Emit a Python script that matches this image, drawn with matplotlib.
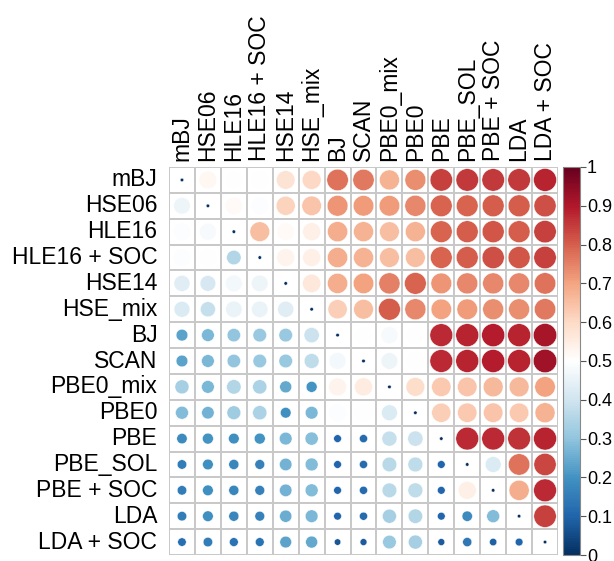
import numpy as np
import matplotlib
matplotlib.use("Agg")
import matplotlib.pyplot as plt
from matplotlib.colors import LinearSegmentedColormap, Normalize
from matplotlib.patches import Circle, Rectangle
import matplotlib.colorbar as mcolorbar

plt.rcParams['font.family'] = ['Liberation Sans', 'DejaVu Sans']

labels = ["mBJ", "HSE06", "HLE16", "HLE16 + SOC", "HSE14", "HSE_mix", "BJ", "SCAN",
          "PBE0_mix", "PBE0", "PBE", "PBE_SOL", "PBE + SOC", "LDA", "LDA + SOC"]

row_mBJ      = [0.00, 0.52, 0.50, 0.50, 0.58, 0.60, 0.77, 0.76, 0.67, 0.73, 0.84, 0.85, 0.85, 0.85, 0.88]
row_HSE06    = [0.46, 0.00, 0.51, 0.49, 0.61, 0.64, 0.72, 0.71, 0.71, 0.74, 0.79, 0.79, 0.80, 0.80, 0.82]
row_HLE16    = [0.49, 0.48, 0.00, 0.65, 0.51, 0.54, 0.68, 0.67, 0.65, 0.67, 0.79, 0.80, 0.81, 0.80, 0.84]
row_HLE16SOC = [0.49, 0.50, 0.35, 0.00, 0.53, 0.54, 0.68, 0.67, 0.65, 0.65, 0.79, 0.80, 0.82, 0.81, 0.84]
row_HSE14    = [0.43, 0.41, 0.47, 0.46, 0.00, 0.56, 0.68, 0.70, 0.75, 0.79, 0.72, 0.74, 0.74, 0.74, 0.77]
row_HSEmix   = [0.42, 0.38, 0.45, 0.45, 0.43, 0.00, 0.62, 0.65, 0.80, 0.74, 0.70, 0.71, 0.73, 0.73, 0.76]
row_BJ       = [0.23, 0.27, 0.30, 0.31, 0.31, 0.39, 0.00, 0.50, 0.48, 0.50, 0.87, 0.88, 0.89, 0.88, 0.91]
row_SCAN     = [0.23, 0.27, 0.30, 0.31, 0.31, 0.37, 0.47, 0.00, 0.46, 0.50, 0.87, 0.88, 0.89, 0.88, 0.92]
row_PBE0mix  = [0.33, 0.27, 0.35, 0.34, 0.24, 0.20, 0.53, 0.55, 0.00, 0.59, 0.63, 0.64, 0.66, 0.66, 0.70]
row_PBE0     = [0.28, 0.26, 0.32, 0.34, 0.19, 0.27, 0.49, 0.50, 0.42, 0.00, 0.62, 0.63, 0.64, 0.63, 0.67]
row_PBE      = [0.18, 0.20, 0.19, 0.20, 0.27, 0.29, 0.10, 0.11, 0.38, 0.39, 0.00, 0.87, 0.87, 0.86, 0.88]
row_PBESOL   = [0.15, 0.19, 0.17, 0.16, 0.26, 0.28, 0.10, 0.11, 0.36, 0.37, 0.10, 0.00, 0.42, 0.77, 0.83]
row_PBESOC   = [0.15, 0.19, 0.17, 0.16, 0.26, 0.28, 0.10, 0.11, 0.36, 0.37, 0.10, 0.54, 0.00, 0.68, 0.87]
row_LDA      = [0.15, 0.19, 0.17, 0.16, 0.25, 0.27, 0.10, 0.11, 0.33, 0.35, 0.10, 0.18, 0.28, 0.00, 0.84]
row_LDASOC   = [0.12, 0.15, 0.13, 0.13, 0.23, 0.24, 0.07, 0.08, 0.31, 0.33, 0.08, 0.14, 0.09, 0.10, 0.00]

M = np.array([row_mBJ, row_HSE06, row_HLE16, row_HLE16SOC, row_HSE14, row_HSEmix,
              row_BJ, row_SCAN, row_PBE0mix, row_PBE0, row_PBE, row_PBESOL,
              row_PBESOC, row_LDA, row_LDASOC])

cols = ["#053061", "#2166AC", "#4393C3", "#92C5DE", "#D1E5F0", "#FFFFFF",
        "#FDDBC7", "#F4A582", "#D6604D", "#B2182B", "#67001F"]
cmap = LinearSegmentedColormap.from_list("rdbu", cols, N=200)
norm = Normalize(0, 1)

W, H = 614, 561
fig = plt.figure(figsize=(W / 100, H / 100), dpi=100)
x0, x1, y0, y1 = 169, 558, 167, 555
ax = fig.add_axes([x0 / W, 1 - y1 / H, (x1 - x0) / W, (y1 - y0) / H])
n = len(labels)
ax.set_xlim(0, n)
ax.set_ylim(n, 0)
ax.axis('off')

grid_c = "#C8C8C8"
for i in range(n):
    for j in range(n):
        ax.add_patch(Rectangle((j, i), 1, 1, facecolor='white', edgecolor=grid_c, lw=1.4))
        v = M[i, j]
        r = 0.47 * np.sqrt(max(v, 0.02))
        ax.add_patch(Circle((j + 0.5, i + 0.5), r, facecolor=cmap(norm(v)),
                            edgecolor='white', lw=0.3))

fs = 16.5
for k, lab in enumerate(labels):
    ax.text(-0.45, k + 0.5, lab, ha='right', va='center', fontsize=fs)
    ax.text(k + 0.5, -0.25, lab, ha='center', va='bottom', rotation=90, fontsize=fs,
            rotation_mode='default')

cax = fig.add_axes([563 / W, 1 - 555 / H, 17 / W, (555 - 167) / H])
cb = mcolorbar.ColorbarBase(cax, cmap=cmap, norm=norm, orientation='vertical')
cb.set_ticks(np.round(np.arange(0, 1.01, 0.1), 1))
cb.set_ticklabels(["0", "0.1", "0.2", "0.3", "0.4", "0.5", "0.6", "0.7", "0.8", "0.9", "1"])
cb.outline.set_edgecolor('#888888')
cb.outline.set_linewidth(0.8)
cax.tick_params(labelsize=13, length=4, width=0.8, color='#555555', pad=1)

fig.savefig("out.png", dpi=100)
